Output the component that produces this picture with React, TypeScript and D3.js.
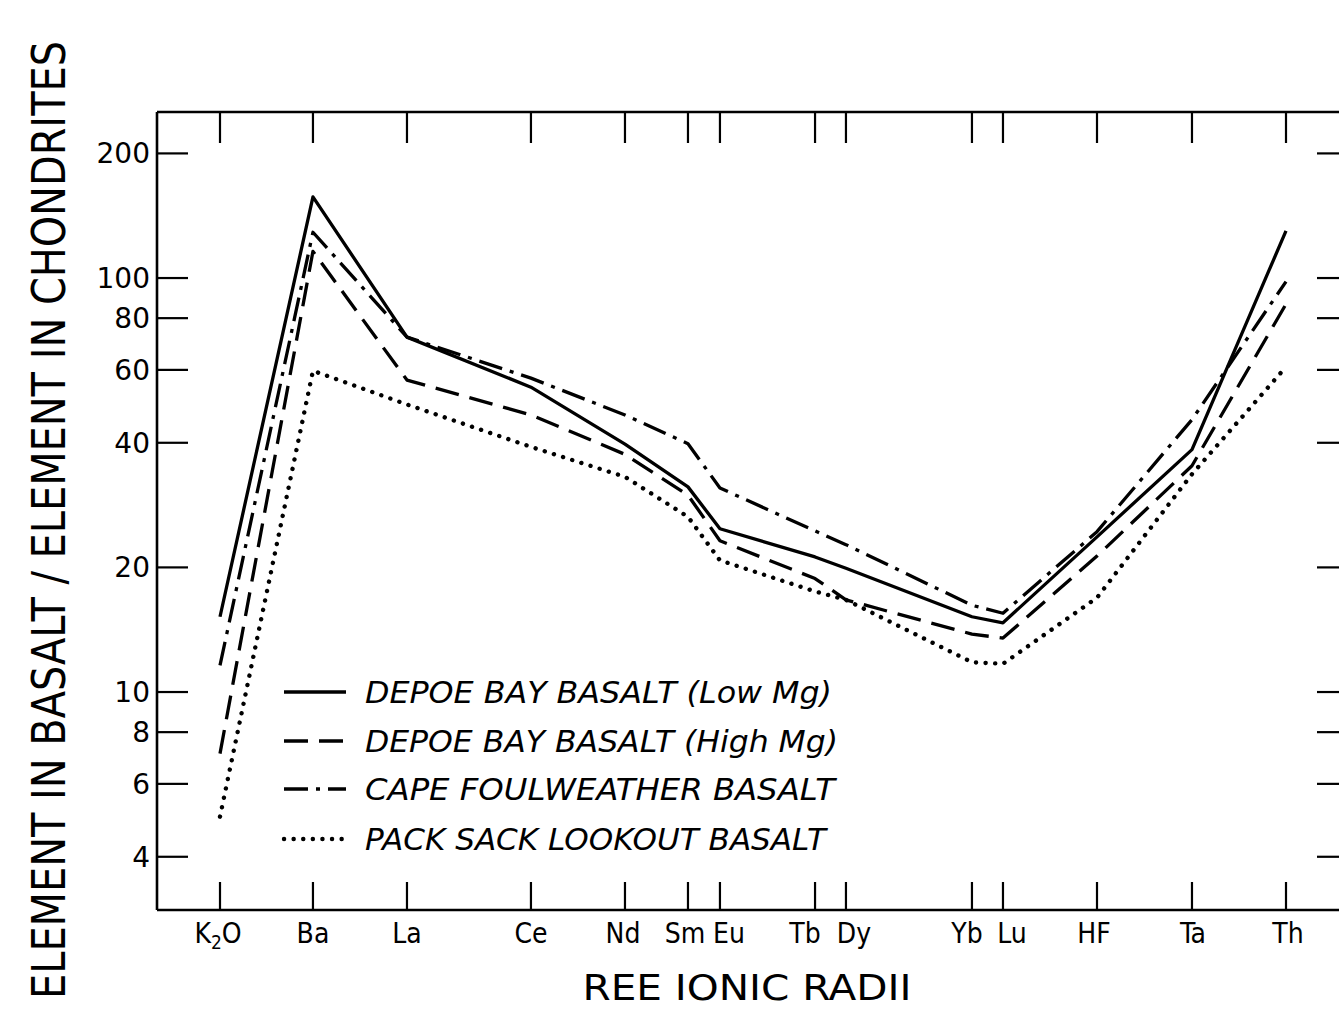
import React from "react";
import * as d3 from "d3";

// ---- data ----
const categories = ["K2O", "Ba", "La", "Ce", "Nd", "Sm", "Eu", "Tb", "Dy", "Yb", "Lu", "HF", "Ta", "Th"];
// relative position along the "REE ionic radii" axis (0 = K2O, 100 = Th)
const radiusPosition = [0, 8.72, 17.54, 29.17, 37.99, 43.9, 46.9, 55.82, 58.72, 70.54, 73.45, 82.27, 91.18, 100];

const depoeLowMg = [15.2, 157, 72, 54.5, 39.7, 31.3, 24.8, 21.2, 19.9, 15.2, 14.7, 23.7, 38.5, 130];
const depoeHighMg = [7.1, 116, 56.7, 46.7, 37.5, 29.9, 23.2, 18.8, 16.7, 13.8, 13.5, 21.3, 35.2, 86.5];
const capeFoulweather = [11.6, 129, 72, 57.3, 46.7, 39.8, 31.1, 24.5, 22.7, 16.2, 15.5, 24.4, 45.5, 98];
const packSackLookout = [5.0, 59.7, 49.5, 39.1, 33.1, 26.5, 20.8, 17.5, 16.7, 11.8, 11.7, 16.9, 33.6, 61];

const yTicks = [200, 100, 80, 60, 40, 20, 10, 8, 6, 4];

const seriesNames = [
  "DEPOE BAY BASALT (Low Mg)",
  "DEPOE BAY BASALT (High Mg)",
  "CAPE FOULWEATHER BASALT",
  "PACK SACK LOOKOUT BASALT",
];
const seriesValues = [depoeLowMg, depoeHighMg, capeFoulweather, packSackLookout];

const yTitle = "ELEMENT IN BASALT / ELEMENT IN CHONDRITES";
const xTitle = "REE IONIC RADII";

// ---- layout / style ----
const W = 1339;
const H = 1010;
const frame = { left: 157, right: 1348, top: 112, bottom: 910 };
const tickLen = 31;
const FONT = "'DejaVu Sans', sans-serif";
// small horizontal nudges of crowded tick labels (px)
const labelNudge = [-2, 0, 0, 0, -2, -3, 9, -10, 8, -5, 9, -3, 1, 2];

const styles = [
  { dash: undefined, cap: "butt", width: 3.3 },
  { dash: "24 11", cap: "butt", width: 3.3 },
  { dash: "24 8 4 8", cap: "butt", width: 3.3 },
  { dash: "0.1 9.5", cap: "round", width: 4.4 },
];

export default function App() {
  const x = d3.scaleLinear().domain([0, 100]).range([220, 1286]);
  const y = d3.scaleLog().domain([2.975, 251.8]).range([frame.bottom, frame.top]);

  const line = d3
    .line<number>()
    .x((_, i) => x(radiusPosition[i]))
    .y((v) => y(v));

  const legendY = [692, 741, 789, 839];
  const legendTextWidth = [467, 473, 470, 461];

  return (
    <svg
      width={W}
      height={H}
      style={{ position: "absolute", left: 0, top: 0, background: "#fff" }}
    >
      <rect x={0} y={0} width={W} height={H} fill="#fff" />
      {/* frame */}
      <g stroke="#000" strokeWidth={2.6} fill="none">
        <line x1={frame.left} x2={frame.right} y1={frame.top} y2={frame.top} />
        <line x1={frame.left} x2={frame.right} y1={frame.bottom} y2={frame.bottom} />
        <line x1={frame.left} x2={frame.left} y1={frame.top} y2={frame.bottom} />
        <line x1={frame.right} x2={frame.right} y1={frame.top} y2={frame.bottom} />
      </g>
      {/* ticks */}
      <g stroke="#000" strokeWidth={2.2}>
        {radiusPosition.map((p, i) => (
          <g key={"xt" + i}>
            <line x1={x(p)} x2={x(p)} y1={frame.top} y2={frame.top + tickLen} />
            <line x1={x(p)} x2={x(p)} y1={frame.bottom} y2={frame.bottom - tickLen + 3} />
          </g>
        ))}
        {yTicks.map((t) => (
          <g key={"yt" + t}>
            <line x1={frame.left} x2={frame.left + tickLen} y1={y(t)} y2={y(t)} />
            <line x1={frame.right} x2={frame.right - tickLen} y1={y(t)} y2={y(t)} />
          </g>
        ))}
      </g>
      {/* y tick labels */}
      <g fontFamily="'DejaVu Sans', sans-serif" fontSize={28} textAnchor="end">
        {yTicks.map((t) => (
          <text key={"yl" + t} x={150} y={y(t)} dy="0.36em">
            {t}
          </text>
        ))}
      </g>
      {/* x tick labels */}
      <g fontFamily={FONT} fontSize={28} textAnchor="middle" style={{ fontStretch: "condensed" }}>
        {categories.map((c, i) => (
          <text key={"xl" + c} x={x(radiusPosition[i]) + labelNudge[i]} y={943}>
            {c === "K2O" ? (
              <>
                K<tspan fontSize={19} dy={6}>2</tspan>
                <tspan dy={-6}>O</tspan>
              </>
            ) : (
              c
            )}
          </text>
        ))}
      </g>
      {/* axis titles */}
      <text
        x={747}
        y={1000}
        fontFamily={FONT}
        fontSize={36}
        textAnchor="middle"
        textLength={329}
        lengthAdjust="spacingAndGlyphs"
        style={{ fontStretch: "condensed" }}
      >
        {xTitle}
      </text>
      <text
        transform="translate(65,520) rotate(-90)"
        fontFamily={FONT}
        fontSize={46}
        textAnchor="middle"
        textLength={958}
        lengthAdjust="spacingAndGlyphs"
        style={{ fontStretch: "condensed" }}
      >
        {yTitle}
      </text>
      {/* series */}
      <g fill="none" stroke="#000">
        {seriesValues.map((vals, s) => (
          <path
            key={"s" + s}
            d={line(vals) || ""}
            strokeWidth={styles[s].width}
            strokeDasharray={styles[s].dash}
            strokeLinecap={styles[s].cap as any}
            strokeLinejoin="round"
          />
        ))}
      </g>
      {/* legend */}
      <g>
        {seriesNames.map((name, s) => (
          <g key={"lg" + s}>
            <line
              x1={284}
              x2={346}
              y1={legendY[s]}
              y2={legendY[s]}
              stroke="#000"
              strokeWidth={styles[s].width}
              strokeDasharray={styles[s].dash}
              strokeLinecap={styles[s].cap as any}
            />
            <text
              x={365}
              y={legendY[s] + 11}
              fontFamily={FONT}
              fontStyle="italic"
              fontSize={30}
              textLength={legendTextWidth[s]}
              lengthAdjust="spacingAndGlyphs"
              style={{ fontStretch: "condensed" }}
            >
              {name}
            </text>
          </g>
        ))}
      </g>
    </svg>
  );
}
